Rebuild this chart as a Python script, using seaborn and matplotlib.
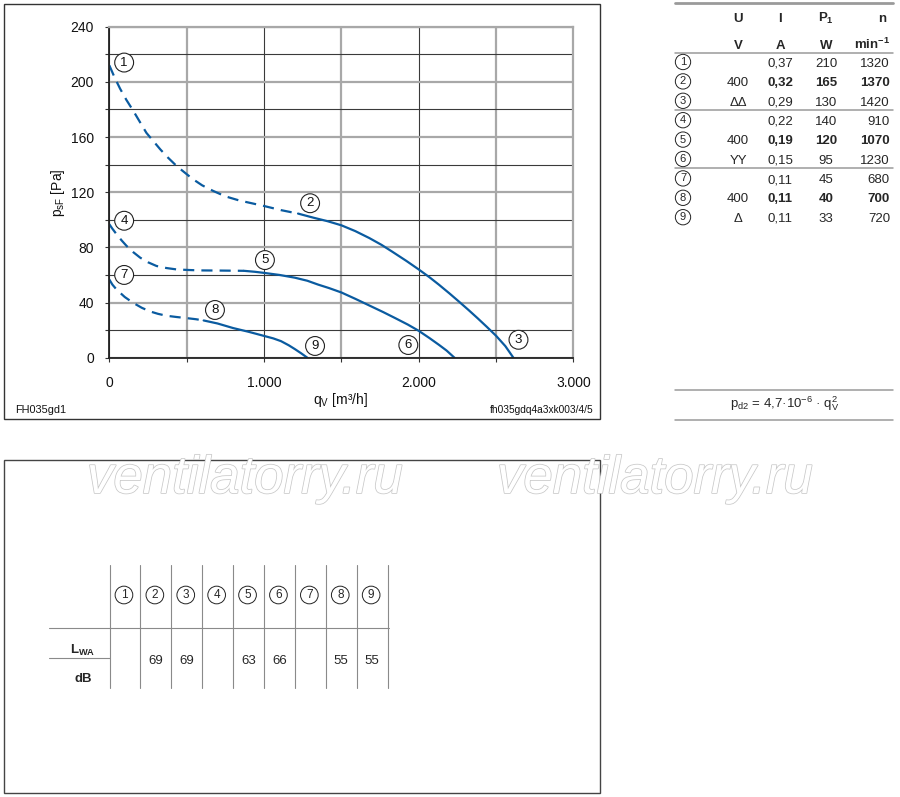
import numpy as np
import matplotlib
matplotlib.use('Agg')
import matplotlib.pyplot as plt
import matplotlib.patheffects as pe
from matplotlib.patches import Rectangle
from matplotlib.ticker import FuncFormatter
import pandas as pd
import seaborn as sns

sns.set_theme(style='white')
plt.rcParams['font.family'] = ['Liberation Sans', 'DejaVu Sans']
plt.rcParams['mathtext.fontset'] = 'custom'
plt.rcParams['mathtext.rm'] = 'Liberation Sans'
plt.rcParams['mathtext.it'] = 'Liberation Sans:italic'
plt.rcParams['mathtext.bf'] = 'Liberation Sans:bold'

W, H = 900, 797
BLUE = '#0a5ba0'
DASH = (0, (5.0, 3.2))

# characteristic curves (q in m3/h, p in Pa)
# top curve 1 -> 2 -> 3
q_123_dash = [0, 35, 70, 110, 155, 200, 240, 285, 330, 380, 435, 490, 540, 600, 670,
              750, 840, 920, 1000, 1110, 1220]
p_123_dash = [212, 203, 195, 187, 179, 170.5, 163, 157, 151, 145, 139, 134, 129.5, 125, 121,
              117, 114, 112, 110, 107, 104.5]
q_123 = [1220, 1320, 1410, 1500, 1590, 1680, 1760, 1830, 1920, 2000, 2070, 2130, 2200,
         2260, 2320, 2380, 2440, 2500, 2560, 2612]
p_123 = [104.5, 101.5, 99, 96, 91.8, 86.8, 81.8, 76.8, 70.2, 64, 58.3, 53, 46.5,
         40.7, 34.8, 28.7, 22.4, 15.9, 8.4, 0]
# middle curve 4 -> 5 -> 6
q_456_dash = [0, 20, 47, 80, 112, 155, 200, 250, 305, 370, 435, 510, 585, 700, 870]
p_456_dash = [96.8, 93.5, 89.5, 85, 81, 76.5, 72.5, 69.2, 66.5, 65, 64, 63.6, 63.3, 63.2, 63]
q_456 = [870, 940, 1000, 1100, 1200, 1280, 1350, 1420, 1500, 1590, 1680, 1770, 1850,
         1930, 2000, 2070, 2130, 2180, 2231]
p_456 = [63, 62.3, 61.5, 60, 58, 55.8, 53, 50.5, 47.3, 42.7, 37.9, 33.1, 28.6,
         24, 19.5, 14.2, 9.4, 5.2, 0]
# bottom curve 7 -> 8 -> 9
q_789_dash = [0, 20, 47, 100, 155, 210, 262, 315, 370, 435, 500, 560, 610]
p_789_dash = [56.7, 53, 49.4, 44, 39.7, 36.2, 33.6, 31.8, 30.4, 29.5, 28.7, 27.9, 27]
q_789 = [610, 700, 800, 900, 1000, 1060, 1110, 1160, 1200, 1240, 1280]
p_789 = [27, 24.8, 21.5, 18.8, 15.8, 14, 12, 9, 6.2, 3.2, 0]

# operating point labels
lbl_ids = ['1', '2', '3', '4', '5', '6', '7', '8', '9']
lbl_q = [96, 1298, 2645, 96, 1006, 1933, 96, 683, 1330]
lbl_p = [214, 112, 13, 99.3, 70.8, 9.2, 60, 34.6, 8.5]

# data table
U_vals = ['', '400', 'ΔΔ', '', '400', 'YY', '', '400', 'Δ']
I_vals = ['0,37', '0,32', '0,29', '0,22', '0,19', '0,15', '0,11', '0,11', '0,11']
P_vals = ['210', '165', '130', '140', '120', '95', '45', '40', '33']
n_vals = ['1320', '1370', '1420', '910', '1070', '1230', '680', '700', '720']
bold_rows = [1, 4, 7]

# sound power table
LWA_vals = ['', '69', '69', '', '63', '66', '', '55', '55']

fig = plt.figure(figsize=(W / 100, H / 100), dpi=100)

# background layer in pixel coordinates
bg = fig.add_axes([0, 0, 1, 1])
bg.set_xlim(0, W)
bg.set_ylim(H, 0)
bg.axis('off')

bg.add_patch(Rectangle((3.5, 3.5), 596, 415, fill=False, ec='#333333', lw=1))
bg.add_patch(Rectangle((3.5, 459.5), 596.5, 333, fill=False, ec='#444444', lw=1))

bg.text(15, 410, 'FH035gd1', fontsize=7.8, ha='left', va='center', color='#111')
bg.text(593, 410, 'fh035gdq4a3xk003/4/5', fontsize=7.3, ha='right', va='center', color='#111')
bg.text(340, 400, r'q$_\mathregular{V}$ [m³/h]', fontsize=10, ha='center', va='center', color='#111')
bg.text(58, 193, r'p$_\mathregular{sF}$ [Pa]', fontsize=10, ha='center', va='center',
        rotation=90, color='#111')

# right hand table
tx0, tx1 = 675, 893
fs_t = 9.5
BL = 4.7  # baseline offset from row centre
bg.plot([tx0, tx1], [3, 3], color='#9a9a9a', lw=2)
for yy in [53, 110, 168]:
    bg.plot([tx0, tx1], [yy, yy], color='#9a9a9a', lw=1.1)
col_u, col_i, col_p, col_n = 738, 780, 826, 890
hdr_y, unit_y = 17, 44
bg.text(col_u, hdr_y + BL, 'U', fontsize=fs_t, fontweight='bold', ha='center', va='baseline')
bg.text(col_i, hdr_y + BL, 'I', fontsize=fs_t, fontweight='bold', ha='center', va='baseline')
bg.text(col_p, hdr_y + BL, r'P$_\mathbf{1}$', fontsize=fs_t, fontweight='bold', ha='center', va='baseline')
bg.text(col_n - 8, hdr_y + BL, 'n', fontsize=fs_t, fontweight='bold', ha='center', va='baseline')
bg.text(col_u, unit_y + BL, 'V', fontsize=fs_t, fontweight='bold', ha='center', va='baseline')
bg.text(col_i, unit_y + BL, 'A', fontsize=fs_t, fontweight='bold', ha='center', va='baseline')
bg.text(col_p, unit_y + BL, 'W', fontsize=fs_t, fontweight='bold', ha='center', va='baseline')
bg.text(col_n, unit_y + BL, r'min$^\mathbf{-1}$', fontsize=fs_t, fontweight='bold', ha='right', va='baseline')

circ_small = dict(boxstyle='circle,pad=0.24', fc='white', ec='#222', lw=0.7)
for i in range(9):
    yy = 62 + 19.4 * i
    w = 'bold' if i in bold_rows else 'normal'
    bg.text(683, yy, lbl_ids[i], fontsize=8, ha='center', va='center', bbox=circ_small)
    bg.text(col_u, yy + BL, U_vals[i], fontsize=fs_t, ha='center', va='baseline')
    bg.text(col_i, yy + BL, I_vals[i], fontsize=fs_t, ha='center', va='baseline', fontweight=w)
    bg.text(col_p, yy + BL, P_vals[i], fontsize=fs_t, ha='center', va='baseline', fontweight=w)
    bg.text(col_n, yy + BL, n_vals[i], fontsize=fs_t, ha='right', va='baseline', fontweight=w)

bg.plot([tx0, tx1], [390, 390], color='#9a9a9a', lw=1.1)
bg.plot([tx0, tx1], [420, 420], color='#9a9a9a', lw=1.1)
bg.text(785, 404, r'p$_\mathregular{d2}$ = 4,7·10$^\mathregular{-6}$ · q$_\mathregular{V}^\mathregular{2}$',
        fontsize=fs_t, ha='center', va='center')

# watermark
for cx in [245, 655]:
    bg.text(cx, 479, 'ventilatorry.ru', fontsize=38, fontstyle='italic', color='white',
            ha='center', va='center',
            path_effects=[pe.withStroke(linewidth=1.1, foreground='#c8c8c8')])

# sound power table
col_edges = [109.5 + 30.9 * k for k in range(10)]
for xe in col_edges:
    bg.plot([xe, xe], [565, 688], color='#8a8a8a', lw=0.8)
bg.plot([49, 389], [628, 628], color='#8a8a8a', lw=0.8)
bg.plot([49, 109.5], [658, 658], color='#8a8a8a', lw=0.8)
for k in range(9):
    cx = (col_edges[k] + col_edges[k + 1]) / 2
    bg.text(cx - 1, 595, lbl_ids[k], fontsize=8.5, ha='center', va='center', bbox=circ_small)
    bg.text(cx, 659 + BL, LWA_vals[k], fontsize=fs_t, ha='center', va='baseline')
bg.text(83, 650, r'L$_\mathbf{WA}$', fontsize=fs_t, fontweight='bold', ha='center', va='center')
bg.text(83, 677 + BL, 'dB', fontsize=fs_t, fontweight='bold', ha='center', va='baseline')

# main chart
ax = fig.add_axes([109.3 / W, 1 - 357.7 / H, 464.1 / W, 331 / H])
ax.set_xlim(0, 3000)
ax.set_ylim(0, 240)
ax.set_yticks(range(0, 241, 40))
ax.set_yticks(range(20, 240, 40), minor=True)
ax.set_xticks([0, 1000, 2000, 3000])
ax.set_xticks([500, 1500, 2500], minor=True)
ax.xaxis.set_major_formatter(FuncFormatter(lambda v, _: f'{int(v):,}'.replace(',', '.')))
ax.set_axisbelow(True)
ax.grid(which='major', axis='y', color='#a8a8a8', lw=1.6)
ax.grid(which='minor', axis='y', color='#3a3a3a', lw=0.8)
ax.grid(which='major', axis='x', color='#3a3a3a', lw=0.8)
ax.grid(which='minor', axis='x', color='#a8a8a8', lw=1.6)
ax.tick_params(which='both', direction='out', length=3, width=0.8, color='#333',
               labelsize=10, labelcolor='#111')
ax.tick_params(axis='y', which='both', left=True, pad=8)
ax.tick_params(axis='x', which='both', bottom=True, pad=10)
for s in ['left', 'bottom']:
    ax.spines[s].set_color('#222')
    ax.spines[s].set_linewidth(1.3)
for s in ['top', 'right']:
    ax.spines[s].set_color('#a8a8a8')
    ax.spines[s].set_linewidth(1.6)
ax.set_xlabel('')
ax.set_ylabel('')

curves = [
    (q_123_dash, p_123_dash, q_123, p_123),
    (q_456_dash, p_456_dash, q_456, p_456),
    (q_789_dash, p_789_dash, q_789, p_789),
]
for qd, pd_, qs, ps in curves:
    sns.lineplot(x=qd, y=pd_, ax=ax, color=BLUE, lw=1.6, linestyle=DASH,
                 sort=False, estimator=None)
    sns.lineplot(x=qs, y=ps, ax=ax, color=BLUE, lw=1.6, sort=False, estimator=None)

circ = dict(boxstyle='circle,pad=0.26', fc='white', ec='#222', lw=0.8)
for lid, q, p in zip(lbl_ids, lbl_q, lbl_p):
    ax.text(q, p, lid, fontsize=9.5, ha='center', va='center', bbox=circ, color='#111')

fig.savefig('out.png', dpi=100)
